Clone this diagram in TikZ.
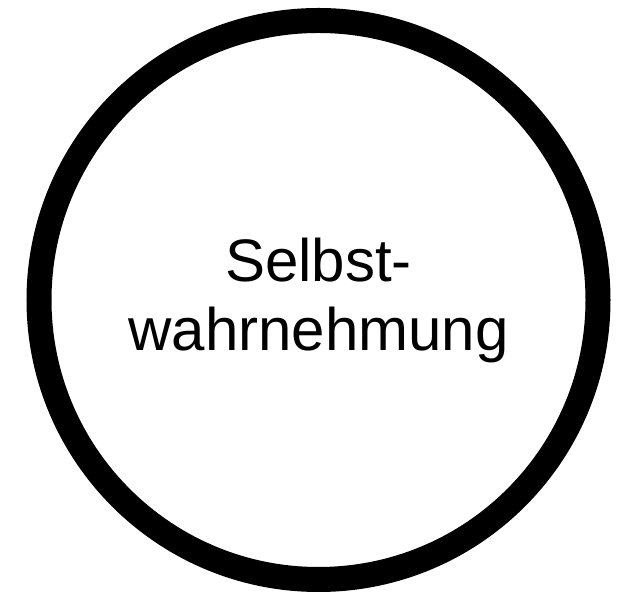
\documentclass[tikz,border=0pt]{standalone}
\usepackage{fontspec}
\setmainfont{Liberation Sans}
\usepackage{tikz}

\begin{document}
\begin{tikzpicture}[x=1pt,y=1pt]
		\useasboundingbox (0,0) rectangle (638,599);
		\tikzset{concept/.style={circle,draw=black,line width=25pt,inner sep=0pt,minimum size=559pt,align=center,font=\fontsize{60}{69}\selectfont}}
		\node[concept] (selbst) at (318.5,299) {Selbst-\\wahrnehmung};
	\end{tikzpicture}
\end{document}
